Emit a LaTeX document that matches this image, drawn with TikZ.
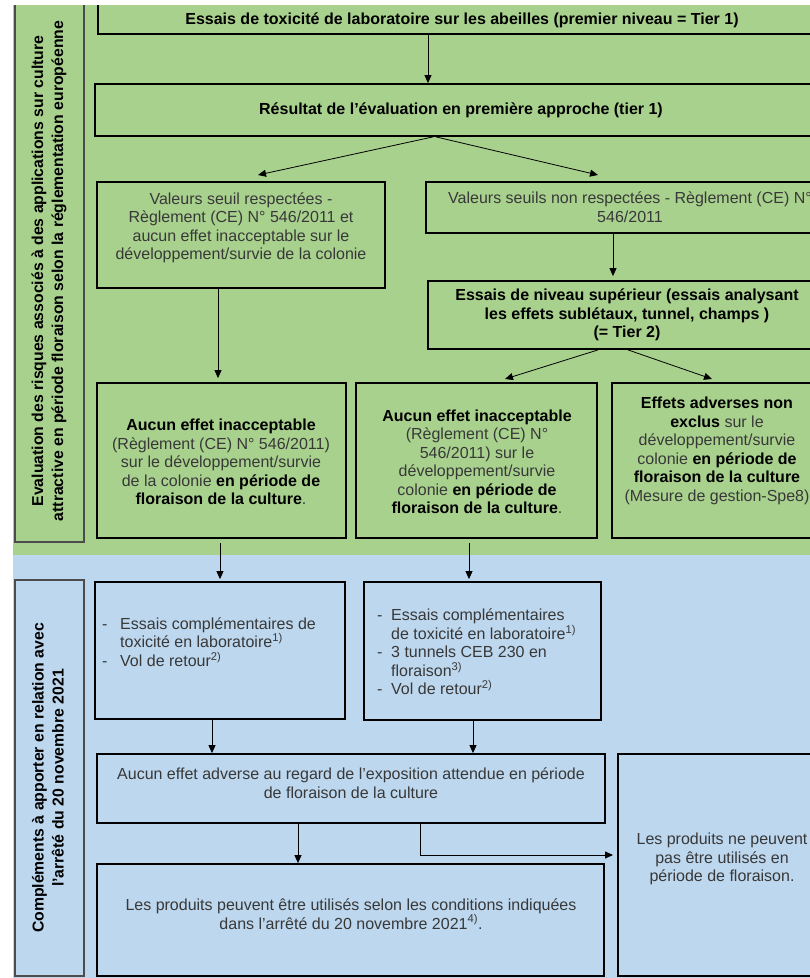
\documentclass[tikz,border=0pt]{standalone}
\usepackage{fontspec}
\setmainfont{Liberation Sans}
\usetikzlibrary{arrows.meta}
\definecolor{bggreen}{HTML}{A9D18E}
\definecolor{bgblue}{HTML}{BDD7EE}
\definecolor{txtgray}{HTML}{383838}
\newcommand{\bb}[1]{\textbf{\color{black}#1}}
\begin{document}
\begin{tikzpicture}[x=1pt,y=-1pt,
  box/.style={draw=black, line width=1.8pt, inner sep=0pt},
  lbox/.style={draw=black!70, line width=1.1pt, inner sep=0pt},
  txt/.style={inner sep=0pt, align=center, text=txtgray, font=\fontsize{16}{18.5}\selectfont},
  lbl/.style={inner sep=0pt, align=center, text=black, rotate=90, font=\bfseries\fontsize{15.8}{20}\selectfont},
  arr/.style={line width=0.8pt, draw=black, -{Triangle[length=8pt,width=7pt]}},
]
\useasboundingbox (0,0) rectangle (810,978);
\fill[white] (0,0) rectangle (810,978);
\begin{scope}
\clip (13,5) rectangle (810,978);
\fill[bggreen] (13,5) rectangle (810,555);
\fill[bgblue] (13,555) rectangle (810,978);

% label boxes
\node[lbox, minimum width=69pt, minimum height=544pt] (L1) at (49.5,270) {};
\node[lbox, minimum width=69pt, minimum height=396pt] (L2) at (49.5,778) {};
\node[lbl] (tL1) at (49,271) {Evaluation des risques associés à des applications sur culture\\attractive en période floraison selon la réglementation européenne};
\node[lbl] (tL2) at (48,778) {Compléments à apporter en relation avec\\l’arrêté du 20 novembre 2021};

% boxes
\node[box, minimum width=729pt, minimum height=30pt] (b1) at (462.5,19) {};
\node[box, minimum width=732pt, minimum height=52pt] (b2) at (461,110) {};
\node[box, minimum width=288pt, minimum height=106pt] (b3) at (241,235) {};
\node[box, minimum width=408pt, minimum height=51pt] (b4) at (630,207.5) {};
\node[box, minimum width=398pt, minimum height=68pt] (b5) at (627,315) {};
\node[box, minimum width=249pt, minimum height=155pt] (b6) at (221.5,460.5) {};
\node[box, minimum width=241pt, minimum height=155pt] (b7) at (476.5,460.5) {};
\node[box, minimum width=216pt, minimum height=155pt] (b8) at (720,460.5) {};
\node[box, minimum width=250pt, minimum height=137pt] (b9) at (220,650.5) {};
\node[box, minimum width=237pt, minimum height=138pt] (b10) at (482.5,651) {};
\node[box, minimum width=508pt, minimum height=69pt] (b11) at (351,788.5) {};
\node[box, minimum width=507pt, minimum height=112pt] (b12) at (350.5,920) {};
\node[box, minimum width=208pt, minimum height=222pt] (b13) at (722,865) {};

% texts
\node[txt] (t1) at (462,20) {\bb{Essais de toxicité de laboratoire sur les abeilles (premier niveau = Tier 1)}};
\node[txt] (t2) at (461,110) {\bb{Résultat de l’évaluation en première approche (tier 1)}};
\node[txt] (t3) at (241,228) {Valeurs seuil respectées -\\Règlement (CE) N° 546/2011 et\\aucun effet inacceptable sur le\\développement/survie de la colonie};
\node[txt] (t4) at (630,207) {Valeurs seuils non respectées - Règlement (CE) N°\\546/2011};
\node[txt] (t5) at (627,315) {\bb{Essais de niveau supérieur (essais analysant}\\\bb{les effets sublétaux, tunnel, champs )}\\\bb{(= Tier 2)}};
\node[txt] (t6) at (221,462) {\bb{Aucun effet inacceptable}\\(Règlement (CE) N° 546/2011)\\sur le développement/survie\\de la colonie \bb{en période de}\\\bb{floraison de la culture}.};
\node[txt] (t7) at (477,462) {\bb{Aucun effet inacceptable}\\(Règlement (CE) N°\\546/2011) sur le\\développement/survie\\colonie \bb{en période de}\\\bb{floraison de la culture}.};
\node[txt] (t8) at (717,451) {\bb{Effets adverses non}\\\bb{exclus} sur le\\développement/survie\\colonie \bb{en période de}\\\bb{floraison de la culture}\\(Mesure de gestion-Spe8)};
\node[txt, align=left, anchor=west] (t9) at (102,642) {\makebox[18pt][l]{-}Essais complémentaires de\\\hspace*{18pt}toxicité en laboratoire\textsuperscript{1)}\\\makebox[18pt][l]{-}Vol de retour\textsuperscript{2)}};
\node[txt, align=left, anchor=west] (t10) at (377,652) {\makebox[14pt][l]{-}Essais complémentaires\\\hspace*{14pt}de toxicité en laboratoire\textsuperscript{1)}\\\makebox[14pt][l]{-}3 tunnels CEB 230 en\\\hspace*{14pt}floraison\textsuperscript{3)}\\\makebox[14pt][l]{-}Vol de retour\textsuperscript{2)}};
\node[txt] (t11) at (351,783) {Aucun effet adverse au regard de l’exposition attendue en période\\de floraison de la culture};
\node[txt] (t12) at (351,914) {Les produits peuvent être utilisés selon les conditions indiquées\\dans l’arrêté du 20 novembre 2021\textsuperscript{4)}.};
\node[txt] (t13) at (722,859) {Les produits ne peuvent\\pas être utilisés en\\période de floraison.};

% coordinates for connector ends
\coordinate (e3) at (258,175);
\coordinate (e4) at (598,175);
\coordinate (e7) at (505,379);
\coordinate (e8) at (712,379);
\coordinate (e13) at (613,855);

% connectors
\draw[arr] (b1.south -| 428,0) -- (b2.north -| 428,0);
\draw[arr] (b2.south -| 433,0) -- (e3);
\draw[arr] (b2.south -| 436,0) -- (e4);
\draw[arr] (b4.south -| 613,0) -- ([yshift=4pt]b5.north -| 613,0);
\draw[arr] (b3.south -| 218,0) -- ([yshift=4pt]b6.north -| 218,0);
\draw[arr] (b5.south -| 598,0) -- (e7);
\draw[arr] (b5.south -| 628,0) -- (e8);
\draw[arr, shorten <=4pt] (b6.south -| 220,0) -- ([yshift=2pt]b9.north -| 220,0);
\draw[arr, shorten <=4pt] (b7.south -| 469,0) -- ([yshift=2pt]b10.north -| 469,0);
\draw[arr] (b9.south -| 212,0) -- (b11.north -| 212,0);
\draw[arr] (b10.south -| 473,0) -- (b11.north -| 473,0);
\draw[arr] (b11.south -| 298,0) -- (b12.north -| 298,0);
\draw[arr] (b11.south -| 420,0) |- (e13);
\end{scope}
\end{tikzpicture}
\end{document}
